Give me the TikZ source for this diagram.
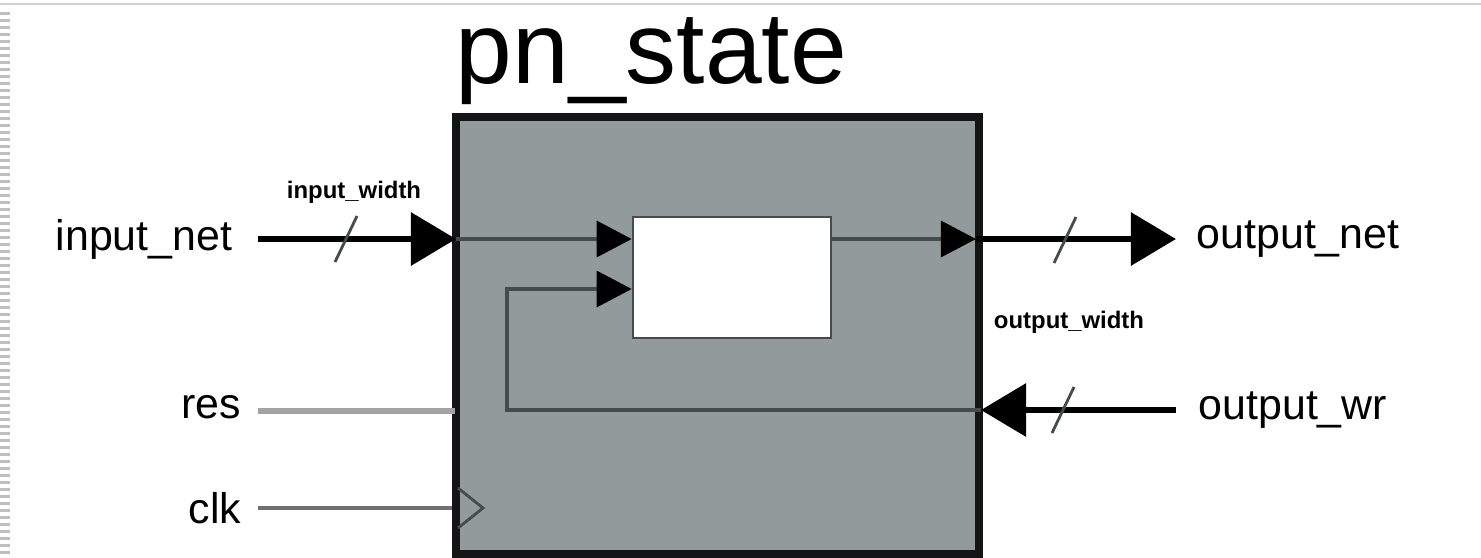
\documentclass[tikz,border=0pt]{standalone}
\usepackage{fontspec}
\setmainfont{Liberation Sans}
\usetikzlibrary{arrows.meta,positioning,calc}

\definecolor{blkgray}{RGB}{147,154,155}
\definecolor{wiregray}{RGB}{70,76,76}
\definecolor{resgray}{RGB}{163,163,163}
\definecolor{clkgray}{RGB}{112,112,112}

\tikzset{
  blkbox/.style={draw=black!92, fill=blkgray, line width=2.3pt, minimum width=5.23cm, minimum height=4.37cm, inner sep=0pt},
  regbox/.style={draw=wiregray, fill=white, line width=0.7pt, minimum width=1.98cm, minimum height=1.21cm, inner sep=0pt},
  title/.style={font=\fontsize{29}{34}\selectfont, inner sep=0pt},
  port/.style={font=\fontsize{12.2}{14}\selectfont, inner sep=0pt},
  widthlbl/.style={font=\fontsize{6.8}{8}\selectfont\bfseries, inner sep=0pt},
  bus/.style={line width=1.8pt, -{Triangle[length=0.45cm,width=0.52cm]}},
  wire/.style={line width=0.9pt, draw=wiregray},
  wirearr/.style={wire, -{Triangle[length=0.35cm,width=0.36cm,color=black]}},
  slash/.style={line width=0.8pt, draw=wiregray},
}

\begin{document}
\begin{tikzpicture}[x=0.01cm, y=-0.01cm]
  \useasboundingbox (0,0) rectangle (1481,557);
  % frame of the screenshot
  \draw[black!18, line width=0.8pt] (0,4) -- (1481,4);
  \draw[black!25, line width=0.1cm, dash pattern=on 0.025cm off 0.045cm] (5,12) -- (5,557);

  % the block
  \node[blkbox] (blk) at (717.5,335.5) {};
  \node[regbox] (reg) at (732,277.5) {};
  \node[title, anchor=base west] (title) at (455,83) {pn\_state};

  % port labels
  \node[port, anchor=east] (innet) at (233,239) {input\_net};
  \node[port, anchor=base east] (res) at (242,418) {res};
  \node[port, anchor=east] (clk) at (242,508) {clk};
  \node[port, anchor=west] (outnet) at (1196,239) {output\_net};
  \node[port, anchor=west] (outwr) at (1198,410) {output\_wr};
  \node[widthlbl] (inw) at (354,192) {input\_width};
  \node[widthlbl] (outw) at (1069,322) {output\_width};

  \coordinate (ipin) at (456,239);
  \coordinate (opin) at (976,239);
  \coordinate (wrpin) at (981,410);
  \coordinate (fbk) at (507,289);

  % buses
  \draw[bus] ([xshift=0.25cm]innet.east) -- (ipin);
  \draw[bus] (opin) -- ([xshift=-0.2cm]outnet.west);
  \draw[bus] ([xshift=-0.22cm]outwr.west) -- (wrpin);
  \foreach \sx/\sy in {346/239, 1065/240, 1063/410}
    \draw[slash] (\sx+11,\sy-23) -- (\sx-11,\sy+23);

  % inside
  \draw[wirearr] (ipin) -- (reg.west |- ipin);
  \draw[wirearr] (wrpin) -| (fbk) -- (reg.west |- fbk);
  \draw[wirearr] (reg.east |- opin) -- (opin);

  % res and clk
  \draw[resgray, line width=1.7pt] ([shift={(16,-7)}]res.base east) -- ++(197,0);
  \draw[clkgray, line width=1.2pt] ([xshift=0.16cm]clk.east) -- (clk.east -| blk.west);
  \draw[wiregray, line width=0.8pt] (458,488) -- (483,508) -- (458,528);
\end{tikzpicture}
\end{document}
